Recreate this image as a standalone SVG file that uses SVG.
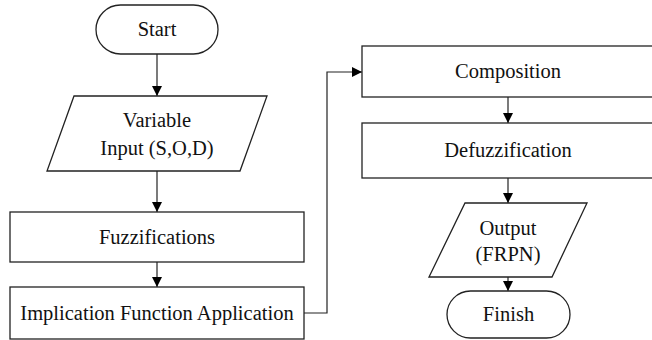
<svg xmlns="http://www.w3.org/2000/svg" width="652" height="340" viewBox="0 0 652 340">
  <defs>
    <marker id="arrow" viewBox="0 0 10 10" refX="10" refY="5" markerWidth="10" markerHeight="10" markerUnits="userSpaceOnUse" orient="auto">
      <path d="M0,0 L10,5 L0,10 Z" fill="#000"/>
    </marker>
    <style>
      .shape { fill: #fff; stroke: #222; stroke-width: 1.3; }
      .label { font-family: "Liberation Serif", "DejaVu Serif", serif; font-size: 20.5px; fill: #111; text-anchor: middle; }
      .conn { fill: none; stroke: #222; stroke-width: 1.2; }
    </style>
  </defs>
  <rect width="652" height="340" fill="#fff"/>

  <!-- connectors -->
  <g id="connectors">
    <path class="conn" d="M157,54 V96" marker-end="url(#arrow)"/>
    <path class="conn" d="M157,171 V212" marker-end="url(#arrow)"/>
    <path class="conn" d="M157,262 V287" marker-end="url(#arrow)"/>
    <path class="conn" d="M304,313 H327 V72 H362" marker-end="url(#arrow)"/>
    <path class="conn" d="M508,97 V123" marker-end="url(#arrow)"/>
    <path class="conn" d="M508,178 V203" marker-end="url(#arrow)"/>
    <path class="conn" d="M508,277 V291" marker-end="url(#arrow)"/>
  </g>

  <g id="start">
    <rect class="shape" x="96" y="5" width="122" height="49" rx="24.5"/>
    <text class="label" x="157" y="36">Start</text>
  </g>

  <g id="variable-input">
    <polygon class="shape" points="74,96 267,96 240,171 47,171"/>
    <text class="label" x="157" y="127">Variable</text>
    <text class="label" x="157" y="155">Input (S,O,D)</text>
  </g>

  <g id="fuzzifications">
    <rect class="shape" x="10" y="212" width="294" height="50"/>
    <text class="label" x="157" y="244">Fuzzifications</text>
  </g>

  <g id="implication">
    <rect class="shape" x="10" y="287" width="294" height="52"/>
    <text class="label" x="157" y="320">Implication Function Application</text>
  </g>

  <g id="composition">
    <rect class="shape" x="362" y="46" width="294" height="51"/>
    <text class="label" x="508" y="78">Composition</text>
  </g>

  <g id="defuzzification">
    <rect class="shape" x="362" y="123" width="294" height="55"/>
    <text class="label" x="508" y="157">Defuzzification</text>
  </g>

  <g id="output">
    <polygon class="shape" points="465,203 587,203 552,277 429,277"/>
    <text class="label" x="508" y="235">Output</text>
    <text class="label" x="508" y="261">(FRPN)</text>
  </g>

  <g id="finish">
    <rect class="shape" x="447" y="291" width="123" height="47" rx="23.5"/>
    <text class="label" x="508.5" y="321">Finish</text>
  </g>
</svg>
